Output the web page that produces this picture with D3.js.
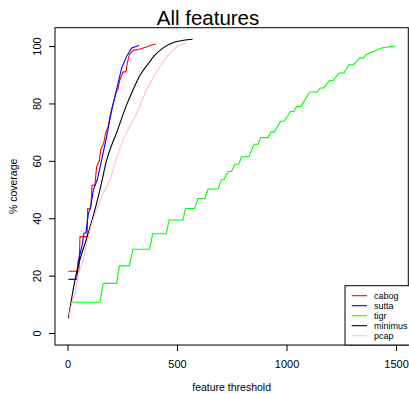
<!DOCTYPE html>
<html>
<head>
<meta charset="utf-8">
<script src="https://cdn.jsdelivr.net/npm/d3@7"></script>
<style>
  body { margin: 0; background: #fff; }
  svg text { font-family: "Liberation Sans", Arial, Helvetica, sans-serif; }
</style>
</head>
<body>
<div class="chart-container"></div>
<script>
// series: [feature threshold, % coverage]
const cabog = [[4,21.5],[52,21.5],[57,33.6],[90,33.6],[92,43.3],[106,43.3],[112,51.5],[125,51.5],
  [133,58],[145,60],[152,64],[165,66],[175,70],[186,72],[195,76],[209,80],[221,83.6],[230,85],
  [239,88.2],[254,91],[267,91],[273,94],[282,97],[300,98.5],[331,99],[361,99.7],[384,100.4],[404,100.7]];
const sutta = [[4,18.7],[43,18.7],[48,24.8],[65,29.9],[75,34.8],[84,34.9],[95,41.5],[106,44.1],
  [118,49.9],[136,53.4],[156,60.3],[179,68.5],[202,77.8],[224,84.8],[247,92.3],[270,96.4],
  [293,99.3],[327,100.2]];
const tigr = [[19,10.7],[148,10.7],[163,17.3],[224,17.3],[237,23.4],[282,23.4],[299,29.2],[375,29.2],
  [389,34.6],[451,34.6],[464,39.4],[527,39.4],[539,43.4],[581,43.4],[596,46.9],[627,46.9],
  [642,50.2],[688,50.2],[703,53.4],[714,53.4],[733,56.3],[749,56.3],[764,58.8],[782,58.8],
  [794,61.4],[828,61.4],[852,65.8],[870,65.8],[882,68.1],[916,68.1],[928,70],[943,70],
  [974,73.8],[989,73.8],[1018,77.2],[1034,77.2],[1045,78.9],[1065,78.9],[1106,84],[1139,84],
  [1155,85.4],[1170,85.4],[1197,88],[1212,88],[1239,90.6],[1262,90.6],[1285,93.5],[1306,93.5],
  [1334,95.8],[1349,95.8],[1364,97],[1433,99.3],[1495,100]];
const minimus = [[4,5.2],[37,19.6],[95,34.8],[125,42.9],[148,49.9],[179,60.3],[226,70.2],[273,80.1],
  [295,84],[331,89.8],[368,93.8],[400,96.9],[435,99.3],[490,101.4],[571,102.4]];
const pcap = [[7,5.7],[24,11.5],[31,12.7],[49,20.2],[72,25.5],[88,31.3],[107,37.1],[133,42.9],
  [171,49.9],[194,53.4],[221,60.3],[254,67.3],[316,76.6],[361,84.8],[422,92.9],[482,98.7],
  [528,100.8],[539,101]];

const seriesNames = ["cabog", "sutta", "tigr", "minimus", "pcap"];
const seriesData = [cabog, sutta, tigr, minimus, pcap];
const seriesColors = ["#ff0000", "#0000ff", "#00ff00", "#000000", "#ffc0cb"];
const xTicks = [0, 500, 1000, 1500];
const yTicks = [0, 20, 40, 60, 80, 100];

const width = 409, height = 394;
const box = {left: 55, right: 408.3, top: 27.7, bottom: 345};

const svg = d3.select(".chart-container")
  .append("svg")
  .attr("width", width)
  .attr("height", height);

const x = d3.scaleLinear().domain([-57.1, 1556]).range([box.left, box.right]);
const y = d3.scaleLinear().domain([-4.18, 106.4]).range([box.bottom, box.top]);

// axes, R style
const xAxis = svg.append("g")
  .attr("transform", `translate(0,${box.bottom})`)
  .call(d3.axisBottom(x).tickValues(xTicks).tickSize(6).tickPadding(9).tickFormat(d3.format("d")));
xAxis.select(".domain").remove();
xAxis.selectAll("text").attr("font-size", 11).attr("fill", "#000")
  .attr("font-family", "Liberation Sans, Arial, sans-serif");

const yAxis = svg.append("g")
  .attr("transform", `translate(${box.left},0)`)
  .call(d3.axisLeft(y).tickValues(yTicks).tickSize(6).tickFormat(d3.format("d")));
yAxis.select(".domain").remove();
yAxis.selectAll("text").remove();
yAxis.selectAll(".tick").append("text")
  .attr("transform", "translate(-14.5,0) rotate(-90)")
  .attr("text-anchor", "middle")
  .attr("font-size", 11)
  .attr("fill", "#000")
  .attr("font-family", "Liberation Sans, Arial, sans-serif")
  .text(d => d);

svg.append("rect")
  .attr("x", box.left).attr("y", box.top)
  .attr("width", box.right - box.left).attr("height", box.bottom - box.top)
  .attr("fill", "none").attr("stroke", "#000");

// curves: black and pink are smooth, the others are stepped
const line = d3.line().x(d => x(d[0])).y(d => y(d[1]));
const smooth = d3.line().x(d => x(d[0])).y(d => y(d[1])).curve(d3.curveMonotoneX);
svg.selectAll(".curve")
  .data(seriesData)
  .enter()
  .append("path")
  .attr("class", "curve")
  .attr("d", (d, i) => (i >= 3 ? smooth(d) : line(d)))
  .attr("fill", "none")
  .attr("stroke", (d, i) => seriesColors[i])
  .attr("stroke-width", 1.1);

// titles
svg.append("text")
  .attr("x", 208).attr("y", 25)
  .attr("text-anchor", "middle")
  .attr("font-size", 20.5)
  .text("All features");

svg.append("text")
  .attr("x", (box.left + box.right) / 2).attr("y", 391)
  .attr("text-anchor", "middle")
  .attr("font-size", 10.5)
  .text("feature threshold");

svg.append("text")
  .attr("transform", `translate(16.5,${(box.top + box.bottom) / 2}) rotate(-90)`)
  .attr("text-anchor", "middle")
  .attr("font-size", 10.5)
  .text("% coverage");

// legend
const legend = svg.append("g");
legend.append("rect")
  .attr("x", 345).attr("y", 285.7)
  .attr("width", 70).attr("height", box.bottom - 285.7)
  .attr("fill", "#fff").attr("stroke", "#000");

const item = legend.selectAll(".item")
  .data(seriesNames)
  .enter()
  .append("g")
  .attr("class", "item")
  .attr("transform", (d, i) => `translate(0,${295.7 + i * 10})`);
item.append("line")
  .attr("x1", 351.7).attr("x2", 367)
  .attr("stroke", (d, i) => seriesColors[i])
  .attr("stroke-width", 1.1);
item.append("text")
  .attr("x", 374).attr("y", 3.2)
  .attr("font-size", 9)
  .text(d => d);
</script>
</body>
</html>
